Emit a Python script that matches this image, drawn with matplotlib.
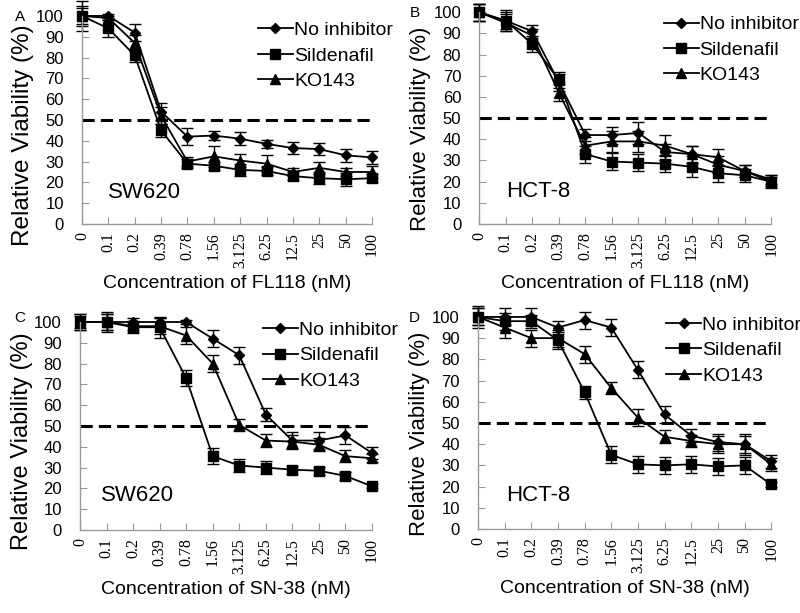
#!/usr/bin/env python3
import numpy as np
import matplotlib
matplotlib.use('Agg')
import matplotlib.pyplot as plt

#~~~~~~~~~~~~ Data ~~~~~~~~~~~~~~~~~~~~~~~
conc = ['0', '0.1', '0.2', '0.39', '0.78', '1.56', '3.125', '6.25', '12.5', '25', '50', '100']

# panel A : SW620, FL118
a_none = [100, 100, 92, 54, 42, 42.5, 41, 38.5, 36.5, 36, 33, 32]
a_none_err = [5, 1, 4, 4, 4, 2, 3, 2, 3, 3, 3, 3]
a_sild = [100, 94, 81, 45, 29, 28, 26, 25.5, 23, 22, 21.5, 22]
a_sild_err = [7, 4, 3, 3, 2, 2, 3, 2, 2, 3, 3, 2]
a_ko = [100, 99, 87, 52, 30, 32.5, 30.5, 29, 25, 27, 25, 25]
a_ko_err = [4, 1, 4, 4, 2, 5, 3, 4, 2, 3, 2, 3]

# panel B : HCT-8, FL118
b_none = [100, 96, 91, 67, 42, 42, 43, 34, 33, 28, 25, 21]
b_none_err = [4, 4, 3, 4, 3, 4, 5, 4, 4, 4, 3, 2]
b_sild = [100, 96, 85, 68, 33, 29.5, 29, 28.5, 27, 24, 23, 20]
b_sild_err = [4, 5, 4, 4, 4, 4, 4, 4, 5, 4, 3, 3]
b_ko = [100, 95, 89, 62, 37, 39, 39, 37, 33, 31.5, 25, 20]
b_ko_err = [4, 4, 3, 4, 4, 5, 5, 5, 4, 4, 3, 2]

# panel C : SW620, SN-38
c_none = [100, 100, 100, 100, 100, 92, 84, 55.5, 43, 43, 45.5, 37]
c_none_err = [4, 4, 2, 2, 1, 4, 4, 3, 4, 4, 4, 3]
c_sild = [100, 100, 97.5, 97.5, 73, 35.5, 31, 30, 29, 28.5, 26, 21]
c_sild_err = [4, 5, 3, 5, 4, 4, 3, 3, 2, 2, 2, 1]
c_ko = [100, 100, 98, 98, 93.5, 80, 50.5, 43, 42.5, 41, 35.5, 34.5]
c_ko_err = [3, 4, 2, 4, 4, 4, 3, 3, 3, 3, 3, 2]

# panel D : HCT-8, SN-38
d_none = [100, 100, 100, 95, 98.5, 95, 75, 54, 44, 41, 40, 32]
d_none_err = [4, 4, 4, 3, 4, 4, 4, 4, 3, 4, 5, 3]
d_sild = [100, 98, 98, 89, 64.5, 35, 30.5, 30, 30.5, 29.5, 30, 21]
d_sild_err = [5, 4, 3, 4, 3, 4, 4, 4, 4, 4, 4, 1]
d_ko = [100, 95, 90, 90, 82.5, 66.5, 52.5, 43.5, 41.5, 40, 40, 30.5]
d_ko_err = [4, 5, 4, 4, 4, 3, 4, 3, 3, 4, 4, 3]

labels = ['No inhibitor', 'Sildenafil', 'KO143']
#~~~~~~~~~~~~~~~~~~~~~~~~~~~~~~~~~~~~~~~~~~~

plt.rcParams['font.family'] = ['Liberation Sans', 'DejaVu Sans']

panels = [
    {'letter': 'A', 'cell': 'SW620', 'drug': 'FL118', 'data': [(a_none, a_none_err), (a_sild, a_sild_err), (a_ko, a_ko_err)],
     'pos': [0.1025, 0.6346, 0.3625, 0.3394], 'ylab': 17.5, 'ylabxy': (-0.165, 0.427),
     'letxy': (-0.214, 0.995), 'cellxy': (1.0, 15), 'leg': (0.58, 1.01)},
    {'letter': 'B', 'cell': 'HCT-8', 'drug': 'FL118', 'data': [(b_none, b_none_err), (b_sild, b_sild_err), (b_ko, b_ko_err)],
     'pos': [0.599, 0.6346, 0.365, 0.3454], 'ylab': 16, 'ylabxy': (-0.165, 0.448),
     'letxy': (-0.219, 0.995), 'cellxy': (1.0, 15.5), 'leg': (0.605, 1.02)},
    {'letter': 'C', 'cell': 'SW620', 'drug': 'SN-38', 'data': [(c_none, c_none_err), (c_sild, c_sild_err), (c_ko, c_ko_err)],
     'pos': [0.100, 0.1354, 0.365, 0.3393], 'ylab': 17, 'ylabxy': (-0.162, 0.428),
     'letxy': (-0.205, 1.02), 'cellxy': (0.8, 16.5), 'leg': (0.6, 1.04)},
    {'letter': 'D', 'cell': 'HCT-8', 'drug': 'SN-38', 'data': [(d_none, d_none_err), (d_sild, d_sild_err), (d_ko, d_ko_err)],
     'pos': [0.5975, 0.137, 0.3665, 0.346], 'ylab': 16, 'ylabxy': (-0.165, 0.448),
     'letxy': (-0.219, 0.995), 'cellxy': (1.05, 16), 'leg': (0.615, 1.04)},
]

markers = [('D', 5.5), ('s', 7.5), ('^', 7)]
grey = '#9a9a9a'
x = np.arange(len(conc))

fig = plt.figure(figsize=(8.0, 6.13), dpi=100)

for p in panels:
    ax = fig.add_axes(p['pos'])
    handles = []
    for (vals, err), lab, (m, ms) in zip(p['data'], labels, markers):
        eb = ax.errorbar(x, vals, yerr=err, color='black', lw=1.3, marker=m, ms=ms,
                         elinewidth=1.0, capsize=4, capthick=1.0, label=lab, clip_on=False)
        handles.append(eb[0])  # line+marker only, no error bar in legend
    ax.plot([0, len(conc) - 1], [50, 50], color='black', lw=2.2, dashes=(4, 2))

    ax.set_xlim(0, len(conc) - 1)
    ax.set_ylim(0, 100)
    ax.set_yticks(range(0, 101, 10))
    ax.set_xticks(x)
    ax.set_xticklabels(conc, rotation=90, family='Liberation Serif', fontsize=11.5)
    ax.tick_params(axis='y', labelsize=12, direction='in', color=grey, length=5, pad=13)
    ax.tick_params(axis='x', direction='in', color=grey, length=5, pad=6)
    for s in ['top', 'right']:
        ax.spines[s].set_visible(False)
    for s in ['left', 'bottom']:
        ax.spines[s].set_color(grey)
        ax.spines[s].set_linewidth(1.0)

    ax.set_ylabel('Relative Viability (%)', fontsize=p['ylab'])
    ax.yaxis.set_label_coords(*p['ylabxy'])
    ax.set_xlabel('Concentration of %s (nM)' % p['drug'], fontsize=14, labelpad=5)
    ax.text(p['cellxy'][0], p['cellxy'][1], p['cell'], fontsize=16, va='center', ha='left')
    ax.text(p['letxy'][0], p['letxy'][1], p['letter'], transform=ax.transAxes, fontsize=11,
            va='center', ha='center')
    ax.legend(handles, labels, loc='upper left', bbox_to_anchor=p['leg'], frameon=False, fontsize=14,
              handlelength=1.8, handletextpad=0.05, labelspacing=0.4, borderaxespad=0)

plt.savefig('out.png', dpi=100)
